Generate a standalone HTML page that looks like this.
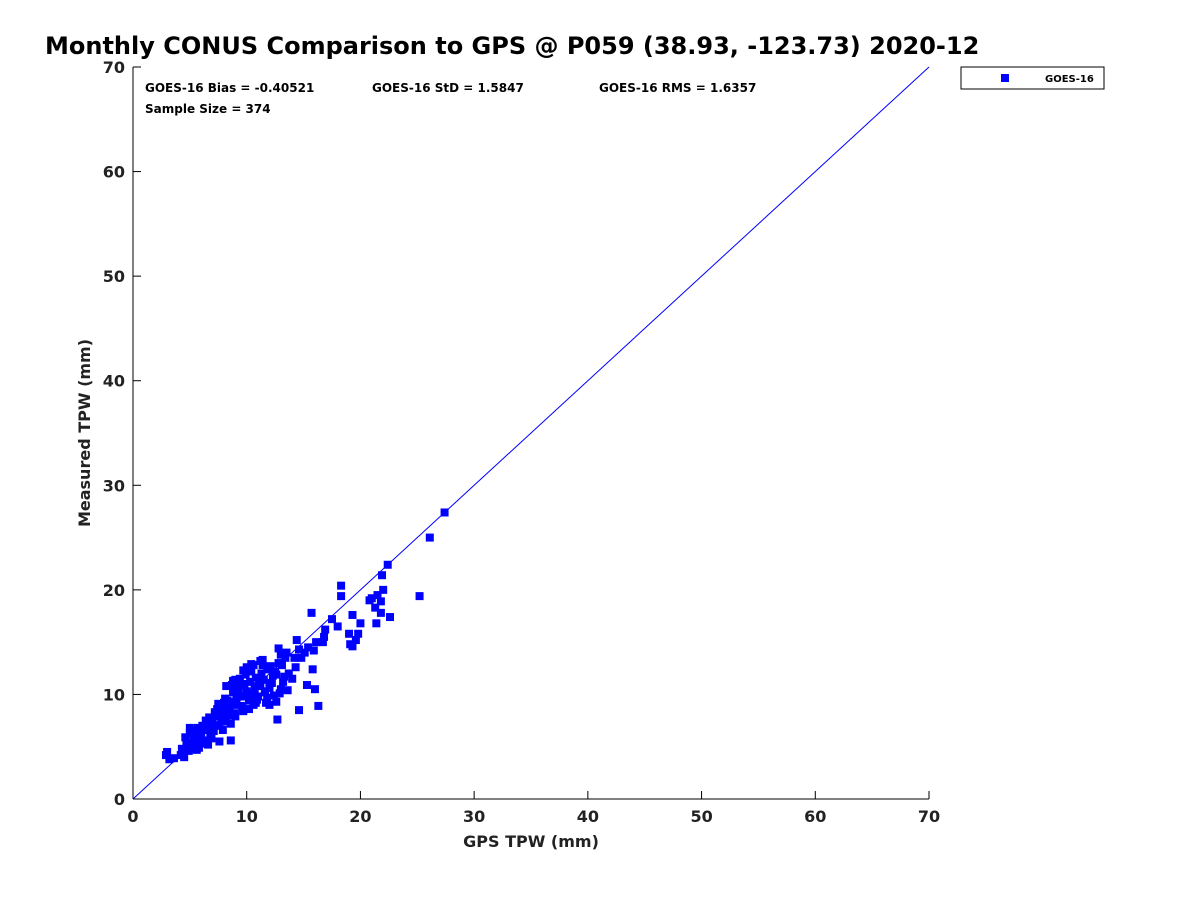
<!DOCTYPE html>
<html><head><meta charset="utf-8"><style>
body{margin:0;background:#fff;width:1200px;height:900px;overflow:hidden;font-family:"DejaVu Sans","Liberation Sans",sans-serif}
</style></head><body>
<svg id="chart" width="1200" height="900" xmlns="http://www.w3.org/2000/svg" font-family="DejaVu Sans, Liberation Sans, sans-serif">
<text x="45" y="54" font-size="24" font-weight="bold" fill="#000">Monthly CONUS Comparison to GPS @ P059 (38.93, -123.73) 2020-12</text>
<g id="axes"></g>
<g id="marks"></g>
<text x="145" y="92" font-size="12" font-weight="bold">GOES-16 Bias = -0.40521</text>
<text x="372" y="92" font-size="12" font-weight="bold">GOES-16 StD = 1.5847</text>
<text x="599" y="92" font-size="12" font-weight="bold">GOES-16 RMS = 1.6357</text>
<text x="145" y="113" font-size="12" font-weight="bold">Sample Size = 374</text>
<g>
<rect x="961" y="67" width="143" height="22" fill="#fff" stroke="#000" stroke-width="1"/>
<rect x="1001" y="74" width="8" height="8" fill="#0000ff"/>
<text x="1045" y="82" font-size="10" font-weight="bold">GOES-16</text>
</g>
<text x="531" y="847" font-size="16" font-weight="bold" text-anchor="middle" fill="#222">GPS TPW (mm)</text>
<text transform="translate(90,433) rotate(-90)" font-size="16" font-weight="bold" text-anchor="middle" fill="#222">Measured TPW (mm)</text>
</svg>
<script>
const xTicks=[0,10,20,30,40,50,60,70];
const yTicks=[0,10,20,30,40,50,60,70];
const gpsX=[27.4,26.1,25.2,22.4,21.9,22.0,21.8,21.5,21.0,20.8,21.3,21.8,22.6,21.4,18.3,18.3,19.3,20.0,17.5,18.0,19.0,19.8,19.1,19.3,19.6,15.7,16.9,16.8,16.1,16.7,15.4,15.9,15.1,14.6,14.4,14.8,14.3,15.8,16.0,15.3,16.3,14.6,12.7,12.8,13.5,13.7,14.0,13.2,13.0,12.0,3.0,2.9,3.2,3.6,4.2,
4.3,4.6,4.8,5.0,5.2,5.5,5.7,6.0,6.2,6.5,6.8,7.0,7.3,7.5,7.8,8.0,8.3,8.5,8.8,9.0,9.3,9.5,9.8,10.0,10.3,10.5,10.8,11.0,11.3,11.5,11.8,12.0,12.3,12.5,12.8,
4.5,4.9,5.3,5.6,5.9,6.3,6.6,6.9,7.2,7.6,7.9,8.2,8.6,8.9,9.2,9.6,9.9,10.2,10.6,10.9,11.2,11.6,11.9,12.2,12.6,
5.1,5.4,5.8,6.1,6.4,6.7,7.1,7.4,7.7,8.1,8.4,8.7,9.1,9.4,9.7,10.1,10.4,10.7,11.1,11.4,11.7,12.1,12.4,13.1,13.4,
4.7,5.0,5.6,6.0,6.6,7.0,7.6,8.0,8.6,9.0,9.6,10.0,10.6,11.0,11.6,12.0,12.6,13.0,13.6,14.2,
8.2,8.8,9.4,10.2,10.8,11.4,12.2,9.0,10.4,11.8,7.2,8.6,6.4,5.8,7.9,9.7,11.2,10.9,12.9,13.3];
const measY=[27.4,25.0,19.4,22.4,21.4,20.0,18.9,19.5,19.2,19.0,18.3,17.8,17.4,16.8,20.4,19.4,17.6,16.8,17.2,16.5,15.8,15.8,14.8,14.6,15.2,17.8,16.2,15.5,15.0,15.0,14.5,14.2,14.0,14.3,15.2,13.5,12.6,12.4,10.5,10.9,8.9,8.5,7.6,14.4,14.0,12.0,11.5,11.2,10.5,9.0,4.5,4.2,3.8,3.9,4.2,
4.8,5.9,5.2,6.3,5.0,6.0,6.8,5.5,6.6,7.2,6.2,7.5,8.0,9.1,7.6,8.8,9.4,8.6,10.2,9.0,10.4,9.8,11.0,10.3,11.2,10.0,11.6,10.8,12.0,11.4,12.4,10.6,11.8,12.2,13.0,
4.0,4.6,5.6,4.8,6.4,5.3,6.9,5.8,8.1,7.0,8.4,7.4,9.3,8.2,10.6,8.9,11.9,9.4,12.8,9.6,13.2,10.2,12.6,11.1,11.9,
6.5,5.7,6.1,7.0,5.6,7.8,6.5,8.6,7.9,9.6,8.0,10.9,9.6,11.5,12.3,10.1,12.9,10.5,11.4,13.3,9.2,12.7,9.9,12.8,13.5,
5.3,6.8,4.7,6.0,5.2,6.9,5.5,9.2,7.2,11.4,8.6,12.6,9.0,9.8,10.3,11.0,9.3,13.8,10.4,13.5,
10.8,11.3,10.9,8.6,9.2,12.8,11.1,7.9,12.2,9.7,8.3,5.6,7.5,4.9,6.6,8.4,10.9,9.5,10.1,11.7];
const NS='http://www.w3.org/2000/svg';
const X0=133,X1=929,Y0=799,Y1=67;
function sx(v){return X0+(v/70)*(X1-X0);}
function sy(v){return Y0-(v/70)*(Y0-Y1);}
const axes=document.getElementById('axes');
function mk(t,a,p){const e=document.createElementNS(NS,t);for(const k in a)e.setAttribute(k,a[k]);(p||axes).appendChild(e);return e;}
const xl=mk('line',{x1:X0,y1:Y0,x2:X1,y2:Y0,stroke:'#000','stroke-width':1});


const yl=mk('line',{x1:X0,y1:Y0,x2:X0,y2:Y1,stroke:'#000','stroke-width':1});


xTicks.forEach(t=>{
  const l=mk('line',{x1:sx(t),y1:Y0,x2:sx(t),y2:Y0-8,stroke:'#000'});
  
  
  const tx=mk('text',{x:sx(t),y:Y0+23,'font-size':16,'font-weight':'bold','text-anchor':'middle',fill:'#222'});
  tx.textContent=t;
  
  
});
yTicks.forEach(t=>{
  const l=mk('line',{x1:X0,y1:sy(t),x2:X0+8,y2:sy(t),stroke:'#000'});
  
  
  const tx=mk('text',{x:X0-8,y:sy(t)+6,'font-size':16,'font-weight':'bold','text-anchor':'end',fill:'#222'});
  tx.textContent=t;
  
  
});
const marks=document.getElementById('marks');
const ref=mk('line',{x1:sx(0),y1:sy(0),x2:sx(70),y2:sy(70),stroke:'#0000ff','stroke-width':1},marks);


for(let i=0;i<gpsX.length;i++){
  const r=mk('rect',{x:sx(gpsX[i])-4,y:sy(measY[i])-4,width:8,height:8,fill:'#0000ff'},marks);
  
  
}
</script>
</body></html>
